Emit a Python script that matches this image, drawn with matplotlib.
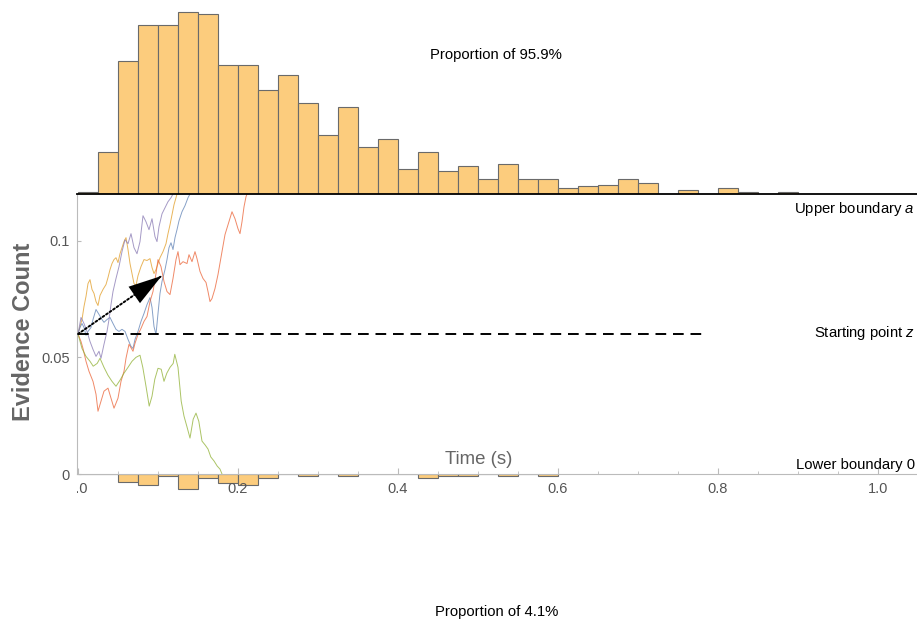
import numpy as np
import matplotlib
matplotlib.use("Agg")
import matplotlib.pyplot as plt
from matplotlib.transforms import Bbox

plt.rcParams['font.family'] = ['Liberation Sans', 'DejaVu Sans']
plt.rcParams['mathtext.fontset'] = 'custom'
plt.rcParams['mathtext.rm'] = 'Liberation Sans'
plt.rcParams['mathtext.it'] = 'Liberation Sans:italic'

# ---------------- data ----------------
bin_width = 0.025
upper_counts = [1, 22, 70, 89, 89, 96, 95, 68, 68, 55, 63, 48, 31, 46, 25, 29, 13, 22,
                12, 15, 8, 16, 8, 8, 3, 4, 5, 8, 6, 0, 2, 0, 3, 1, 0, 1]
lower_counts = [0, 0, 4, 6, 1, 8, 2, 5, 6, 2, 0, 1, 0, 1, 0, 0, 0, 2, 1, 1, 0, 1, 0, 1]

upper_boundary = 0.12
start_point = 0.06
dashed_end = 0.78
drift_tip = (0.1046, 0.0849)

x_ticks = [0.0, 0.2, 0.4, 0.6, 0.8, 1.0]
x_ticklabels = ["0.0", "0.2", "0.4", "0.6", "0.8", "1.0"]
y_ticks = [0.0, 0.05, 0.1]
y_ticklabels = ["0", "0.05", "0.1"]

green_t = [0, .005, .01, .015, .019, .024, .0275, .0325, .0375, .0425, .0475, .0525, .0575,
           .0625, .0675, .0725, .0775, .081, .085, .089, .0925, .096, .1, .104, .1075, .111,
           .115, .119, .121, .125, .129, .1325, .136, .14, .144, .1475, .151, .155, .159,
           .1625, .166, .17, .174, .1775, .18]
green_y = [.06, .0538, .0504, .0483, .0462, .0474, .0496, .0457, .0423, .0397, .0376, .0402,
           .0432, .0457, .0483, .05, .0509, .0457, .0376, .0291, .0333, .0406, .0453, .0449,
           .0397, .0432, .0457, .0474, .0513, .0457, .0312, .0248, .0205, .0154, .0235, .0261,
           .0226, .0141, .0124, .0107, .0073, .0056, .0034, .0021, 0.0]

orange_t = [0, .0025, .005, .0075, .01, .0125, .015, .0175, .02, .0225, .025, .0275, .03125,
            .035, .0375, .04, .0425, .045, .0475, .05, .0525, .055, .0575, .06, .0625, .065,
            .0675, .07, .0725, .075, .07875, .0825, .08625, .09, .0925, .095, .0975, .1,
            .1025, .10625, .11, .1125, .115, .1175, .12, .1225, .12375]
orange_y = [.06, .0632, .0662, .0718, .0761, .0816, .0833, .0791, .0774, .0739, .0722, .0765,
            .0791, .0812, .0842, .0876, .0902, .0919, .0927, .0906, .0944, .0970, .0996, .1013,
            .0962, .0902, .0859, .0816, .0808, .0850, .0889, .0919, .0915, .0923, .0885, .0859,
            .0876, .0902, .0927, .0953, .0987, .1030, .1068, .1111, .1154, .1184, .12]

blue_t = [0, .0025, .005, .0075, .01, .0125, .01625, .01875, .0225, .02625, .03, .0325, .03625,
          .04, .04375, .0475, .05125, .055, .05875, .0625, .06625, .06875, .07125, .075,
          .07875, .0825, .08625, .09, .0925, .095, .0975, .1, .1025, .105, .10875, .11125,
          .11375, .11625, .11875, .12125, .12375, .12625, .13, .13375, .1375, .14]
blue_y = [.06, .0628, .0645, .0628, .0594, .0611, .0628, .0662, .0705, .0684, .0662, .0650,
          .0662, .0671, .0645, .0620, .0611, .0620, .0611, .0577, .0547, .0538, .0577, .0611,
          .0654, .0688, .0726, .0756, .0714, .0632, .0598, .0688, .0774, .0825, .0876, .0919,
          .0970, .0991, .0962, .1013, .1047, .1085, .1124, .1150, .1184, .12]

purple_t = [0, .00375, .0075, .01125, .015, .01875, .0225, .02625, .02875, .0325, .03625,
            .03875, .04125, .04375, .0475, .05125, .055, .05875, .0625, .06625, .07, .07375,
            .0775, .08125, .085, .08875, .0925, .09625, .09875, .10125, .105, .10875, .1125,
            .11625, .11875]
purple_y = [.06, .0671, .0645, .0611, .0568, .0534, .0504, .0526, .0496, .0556, .0611, .0662,
            .0726, .0782, .0838, .0889, .0953, .1004, .0987, .1030, .0970, .0944, .0996, .1107,
            .1081, .1047, .1094, .1017, .0996, .1060, .1115, .1141, .1167, .1184, .12]

red_t = [0, .00375, .00625, .01, .01375, .01875, .0225, .025, .02875, .0325, .0375, .04125,
         .045, .05, .05375, .0575, .06, .06375, .06875, .07125, .075, .07875, .0825, .08625,
         .09, .09375, .0975, .1, .10375, .1075, .11125, .115, .11875, .1225, .125, .1275,
         .13125, .13625, .13875, .1425, .14625, .14875, .1525, .15625, .16, .1625, .165,
         .1675, .17125, .175, .18, .18375, .1875, .1925, .19625, .2, .2025, .205, .2075,
         .21, .21125]
red_y = [.06, .0568, .0538, .0483, .0440, .0397, .0342, .0269, .0312, .0355, .0368, .0325,
         .0282, .0325, .0397, .0440, .0496, .0556, .0526, .0560, .0598, .0624, .0654, .0675,
         .0739, .0782, .0859, .0919, .0889, .0825, .0782, .0769, .0838, .0919, .0953, .0897,
         .0910, .0902, .0940, .0910, .0953, .0923, .0868, .0838, .0821, .0782, .0739, .0752,
         .0795, .0855, .0953, .1026, .1068, .1124, .1094, .1051, .1030, .1081, .1145, .1188,
         .12]

paths = [
    (orange_t, orange_y, '#E19C24'),
    (blue_t, blue_y, '#5E81B5'),
    (purple_t, purple_y, '#8778B3'),
    (red_t, red_y, '#EB6235'),
    (green_t, green_y, '#8FB032'),
]

# ---------------- layout ----------------
W, H = 917, 622
fig = plt.figure(figsize=(W / 100, H / 100), dpi=100)

xlim = (-0.00125, 1.04875)
bar_face = '#FCCC7D'
bar_edge = '#6A6A6A'
px_per_count = 1.896

ax_bot = fig.add_axes([77 / W, 0, 840 / W, 148 / H])
lo_left = np.arange(len(lower_counts)) * bin_width
ax_bot.bar(lo_left, lower_counts, width=bin_width, align='edge', color=bar_face,
           edgecolor=bar_edge, linewidth=0.8)
ax_bot.set_xlim(*xlim)
ax_bot.set_ylim(148 / px_per_count, 0)
ax_bot.axis('off')

ax_top = fig.add_axes([77 / W, 1 - 194 / H, 840 / W, 194 / H])
up_left = np.arange(len(upper_counts)) * bin_width
ax_top.bar(up_left, upper_counts, width=bin_width, align='edge', color=bar_face,
           edgecolor=bar_edge, linewidth=0.8)
ax_top.set_xlim(*xlim)
ax_top.set_ylim(0, 194 / px_per_count)
ax_top.axis('off')

ax = fig.add_axes([77 / W, 148 / H, 840 / W, 280 / H])
ax.patch.set_alpha(0)
for t, y, c in paths:
    ax.plot(t, y, color=c, lw=0.7, alpha=0.75, zorder=2)
ax.plot([0, dashed_end], [start_point, start_point], color='black', lw=1.4,
        dashes=(5.5, 3.5), zorder=3)

# drift arrow: dotted shaft + solid filled head
ax.annotate('', xy=drift_tip, xytext=(0, start_point),
            arrowprops=dict(arrowstyle='-', color='black', lw=1.4,
                            linestyle=(0, (1, 1.2)), shrinkA=0, shrinkB=0), zorder=4)
head_from = (drift_tip[0] * 0.6, start_point + (drift_tip[1] - start_point) * 0.6)
ax.annotate('', xy=drift_tip, xytext=head_from,
            arrowprops=dict(arrowstyle='-|>,head_length=2.4,head_width=0.72',
                            mutation_scale=10, color='black', lw=0.01,
                            shrinkA=0, shrinkB=0), zorder=5)

ax.set_xlim(*xlim)
ax.set_ylim(0, upper_boundary)

ax.spines['right'].set_visible(False)
ax.spines['top'].set_color('black')
ax.spines['top'].set_linewidth(1.3)
ax.spines['left'].set_color('#BBBBBB')
ax.spines['bottom'].set_color('#BBBBBB')

ax.set_xticks(x_ticks)
ax.set_xticklabels(x_ticklabels)
ax.set_xticks([0.05, 0.1, 0.15, 0.25, 0.3, 0.35, 0.45, 0.5, 0.55, 0.65, 0.7, 0.75,
               0.85, 0.9, 0.95], minor=True)
ax.set_yticks(y_ticks)
ax.set_yticklabels(y_ticklabels)
ax.tick_params(axis='x', which='major', direction='in', length=4, color='#BBBBBB',
               labelcolor='#555555', labelsize=10.5, pad=6)
ax.tick_params(axis='x', which='minor', direction='in', length=2, color='#BBBBBB')
ax.tick_params(axis='y', which='major', direction='in', length=3, color='#BBBBBB',
               labelcolor='#555555', labelsize=10.5, pad=5)
ax.tick_params(top=False, right=False)

# clip the "0.0" label at the left edge of the frame, as in the reference
lab0 = ax.get_xticklabels()[0]
lab0.set_clip_box(Bbox.from_extents(77, 0, W, H))
lab0.set_clip_on(True)

fig.text(496 / W, 1 - 55 / H, 'Proportion of 95.9%', ha='center', va='center', fontsize=10.7)
fig.text(497 / W, 1 - 612 / H, 'Proportion of 4.1%', ha='center', va='center', fontsize=10.7)
fig.text(915 / W, 1 - 209 / H, 'Upper boundary $a$', ha='right', va='center', fontsize=10.7)
fig.text(915 / W, 1 - 333 / H, 'Starting point $z$', ha='right', va='center', fontsize=10.7)
fig.text(915 / W, 1 - 465 / H, 'Lower boundary 0', ha='right', va='center', fontsize=10.7)
fig.text(479 / W, 1 - 460 / H, 'Time (s)', ha='center', va='center', fontsize=13.4,
         color='#666666')
fig.text(24 / W, 1 - 332 / H, 'Evidence Count', rotation=90, ha='center', va='center',
         fontsize=17, fontweight='bold', color='#666666')

fig.savefig('out.png', dpi=100)
